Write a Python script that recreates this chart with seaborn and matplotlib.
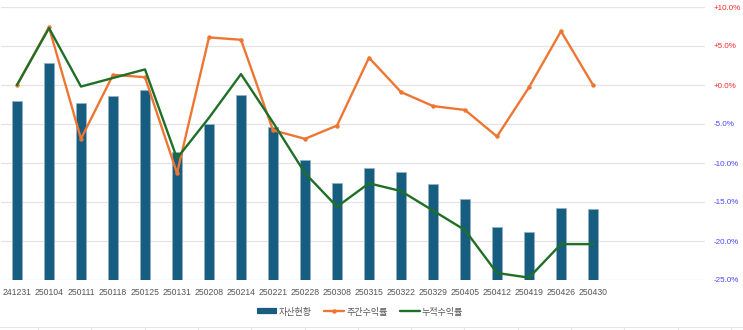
import matplotlib
matplotlib.use("Agg")
import matplotlib.pyplot as plt
import matplotlib.lines as mlines
import matplotlib.patches as mpatches
import numpy as np
import pandas as pd
import seaborn as sns

# ---- data ----
dates = ["241231", "250104", "250111", "250118", "250125", "250131", "250208",
         "250214", "250221", "250228", "250308", "250315", "250322", "250329",
         "250405", "250412", "250419", "250426", "250430"]
assets = [2295, 2782, 2269, 2359, 2436, 1641, 2000, 2372, 1962, 1538, 1244,
          1436, 1385, 1231, 1038, 679, 615, 923, 910]
weekly_ret = [0.0, 7.4, -6.9, 1.3, 1.0, -11.3, 6.1, 5.8, -5.8, -6.9, -5.2,
              3.5, -0.9, -2.7, -3.2, -6.6, -0.3, 6.9, 0.0]
cum_ret = [0.0, 7.3, -0.2, 0.9, 2.0, -9.4, -4.2, 1.4, -4.8, -11.3, -15.6,
           -12.6, -13.6, -16.1, -18.6, -24.1, -24.7, -20.4, -20.4]
right_ticks = [-25, -20, -15, -10, -5, 0, 5, 10]

BAR_C = "#175d80"
ORANGE = "#ee7633"
GREEN = "#1f6f27"
GRID_C = "#e4e4e4"
TEXT_C = "#555555"

sns.set_style("white")
plt.rcParams["font.family"] = ["Liberation Sans", "Noto Sans CJK KR", "DejaVu Sans"]

df = pd.DataFrame({"date": dates, "asset": assets,
                   "weekly": weekly_ret, "cum": cum_ret})
df["pos"] = np.arange(len(df))

W, H = 743, 330
fig = plt.figure(figsize=(W / 100, H / 100), dpi=100)
ax = fig.add_axes([1 / W, 1 - 280 / H, 704 / W, 273 / H])

# asset bars on the primary (hidden) axis
sns.barplot(data=df, x="date", y="asset", color=BAR_C, width=0.3,
            edgecolor="#8fb2c8", linewidth=0.6, saturation=1, ax=ax)
y_top = 3500
ax.set_ylim(0, y_top)
ax.set_yticks(np.linspace(0, y_top, len(right_ticks)))
ax.set_yticklabels([])
ax.grid(axis="y", color=GRID_C, linewidth=0.9)
ax.set_axisbelow(True)
ax.set_xlim(-0.5, 21.5)
ax.set_xlabel("")
ax.set_ylabel("")
ax.tick_params(axis="x", length=0, pad=6, labelsize=6.2, labelcolor=TEXT_C)
ax.tick_params(axis="y", length=0)
for s in ax.spines.values():
    s.set_visible(False)

# return lines on the secondary axis
ax2 = ax.twinx()
sns.lineplot(data=df, x="pos", y="weekly", color=ORANGE, linewidth=1.7,
             marker="o", markersize=3.2, markeredgewidth=0, ax=ax2)
sns.lineplot(data=df, x="pos", y="cum", color=GREEN, linewidth=1.7, ax=ax2)
ax2.set_ylim(-25, 10)
ax2.set_xlim(-0.5, 21.5)
ax2.set_yticks(right_ticks)
ax2.set_yticklabels([f"{v:+.1f}%" for v in right_ticks])
for lbl, v in zip(ax2.get_yticklabels(), right_ticks):
    lbl.set_color("#ff2a2a" if v >= 0 else "#4646ff")
ax2.tick_params(axis="y", length=0, pad=6, labelsize=5.8)
ax2.set_xlabel("")
ax2.set_ylabel("")
for s in ax2.spines.values():
    s.set_visible(False)

# legend
handles = [
    mlines.Line2D([], [], color=BAR_C, linewidth=4.5, solid_capstyle="butt"),
    mlines.Line2D([], [], color=ORANGE, linewidth=1.7, marker="o",
                  markersize=3.2, markeredgewidth=0),
    mlines.Line2D([], [], color=GREEN, linewidth=1.7),
]
fig.legend(handles, ["자산현황", "주간수익률", "누적수익률"],
           loc="center", bbox_to_anchor=(360 / W, 1 - 312 / H), ncol=3,
           frameon=False, fontsize=6.5, labelcolor=TEXT_C,
           handlelength=2.2, handletextpad=0.2, columnspacing=1.4)

# thin divider row along the bottom edge
fig.add_artist(mlines.Line2D([0, 1], [1 - 327 / H, 1 - 327 / H],
                             transform=fig.transFigure, color="#e6e6e6",
                             linewidth=0.8))
for xp in np.arange(38, W, 53.3):
    fig.add_artist(mlines.Line2D([xp / W, xp / W], [0, 1 - 327 / H],
                                 transform=fig.transFigure, color="#e6e6e6",
                                 linewidth=0.8))

fig.savefig("out.png", dpi=100)
